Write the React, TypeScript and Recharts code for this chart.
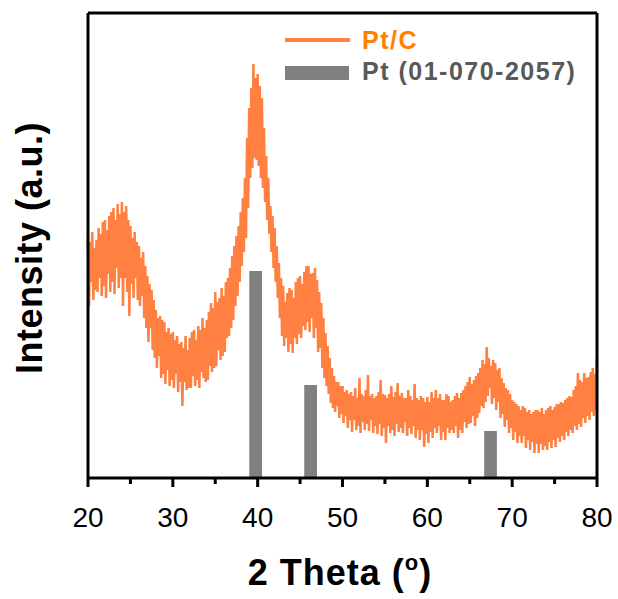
import { ComposedChart, Line, XAxis, YAxis, ReferenceArea, ReferenceLine } from 'recharts';

// XRD scan of Pt/C, sampled every 0.125 deg from 20 deg (one row per degree)
const ANGLE_START = 20;
const ANGLE_STEP = 0.125;

const intensity = [
  240, 172, 236, 196, 246, 178, 230, 188,
  238, 186, 250, 200, 244, 182, 256, 192,
  258, 180, 248, 204, 262, 186, 266, 196,
  270, 184, 258, 210, 274, 190, 264, 200,
  276, 172, 266, 200, 272, 186, 258, 162,
  252, 194, 240, 180, 246, 200, 236, 178,
  232, 172, 220, 182, 226, 160, 212, 150,
  202, 136, 194, 150, 188, 128, 178, 120,
  168, 110, 160, 122, 162, 100, 158, 104,
  156, 94, 146, 108, 150, 92, 144, 98,
  146, 90, 138, 104, 142, 86, 134, 96,
  136, 72, 130, 96, 142, 88, 128, 90,
  140, 90, 146, 102, 148, 92, 138, 98,
  152, 90, 148, 106, 160, 100, 150, 96,
  158, 98, 166, 112, 175, 106, 170, 110,
  186, 112, 176, 128, 180, 118, 190, 122,
  182, 126, 196, 140, 200, 142, 210, 150,
  222, 158, 232, 172, 242, 182, 252, 196,
  266, 212, 280, 226, 300, 240, 340, 270,
  370, 300, 390, 310, 414, 320, 400, 318,
  404, 312, 392, 300, 380, 290, 350, 276,
  322, 258, 300, 244, 272, 226, 262, 210,
  250, 196, 232, 180, 215, 160, 200, 142,
  192, 132, 176, 140, 185, 126, 190, 134,
  188, 125, 180, 140, 196, 134, 200, 144,
  202, 140, 194, 152, 206, 148, 212, 156,
  212, 146, 204, 160, 205, 140, 210, 150,
  198, 126, 186, 130, 175, 110, 160, 100,
  145, 92, 132, 84, 120, 75, 110, 70,
  102, 66, 96, 72, 96, 60, 92, 64,
  92, 55, 86, 62, 88, 50, 84, 58,
  86, 46, 82, 58, 90, 48, 80, 52,
  100, 45, 84, 56, 82, 48, 88, 54,
  103, 47, 82, 58, 84, 45, 80, 52,
  82, 44, 86, 54, 98, 42, 84, 50,
  83, 35, 80, 52, 84, 45, 92, 48,
  81, 42, 86, 54, 95, 46, 82, 50,
  85, 45, 80, 56, 80, 42, 88, 50,
  82, 44, 78, 52, 94, 40, 80, 48,
  78, 38, 82, 48, 80, 31, 76, 44,
  81, 35, 76, 46, 86, 40, 80, 50,
  88, 45, 80, 52, 84, 38, 78, 46,
  78, 38, 84, 50, 82, 45, 76, 48,
  78, 45, 82, 52, 85, 40, 80, 48,
  85, 45, 88, 56, 92, 50, 96, 54,
  101, 55, 94, 62, 98, 52, 102, 60,
  105, 65, 110, 72, 118, 70, 114, 76,
  131, 82, 120, 90, 112, 74, 118, 80,
  115, 68, 108, 76, 110, 60, 100, 64,
  95, 51, 90, 58, 88, 45, 84, 50,
  78, 38, 76, 46, 74, 35, 72, 42,
  68, 35, 72, 42, 70, 30, 66, 38,
  68, 28, 64, 36, 66, 25, 68, 34,
  68, 25, 66, 34, 70, 28, 64, 32,
  68, 28, 70, 36, 72, 30, 68, 38,
  71, 31, 74, 40, 74, 36, 76, 42,
  75, 38, 78, 46, 80, 42, 82, 48,
  81, 45, 88, 52, 92, 48, 105, 54,
  98, 51, 96, 60, 105, 55, 100, 62,
  101, 58, 106, 66, 110, 62, 104, 68,
  120,
];

// Pt reference pattern (01-070-2057)
const refPositions = [39.76, 46.24, 67.45];
const refHeights = [207, 93, 47];

const xTicks = [20, 25, 30, 35, 40, 45, 50, 55, 60, 65, 70, 75, 80];
const xLabels = [20, 30, 40, 50, 60, 70, 80];
const X_MIN = 20;
const X_MAX = 80;
const Y_MAX = 465;

const ORANGE = '#FF8040';
const GRAY = '#808080';
const FONT = '"Liberation Sans", Arial, sans-serif';
const BAR_HALF = 0.75;

const chartData = intensity.map((v, i) => ({ x: ANGLE_START + i * ANGLE_STEP, y: v }));

function AxisTick({ x, y, payload }: any) {
  const major = xLabels.includes(payload.value);
  return (
    <g>
      <line x1={x} x2={x} y1={y} y2={y + (major ? 9 : 6)} stroke="#000" strokeWidth={3} />
      {major && (
        <text x={x} y={y + 49} textAnchor="middle" fontSize={28} fontFamily={FONT} fill="#000">
          {payload.value}
        </text>
      )}
    </g>
  );
}

export default function App() {
  return (
    <div style={{ position: 'absolute', left: 0, top: 0, width: 618, height: 599, background: '#fff' }}>
      <ComposedChart
        width={618}
        height={599}
        data={chartData}
        margin={{ top: 13, right: 21, bottom: 0, left: 88 }}
      >
        <XAxis
          dataKey="x"
          type="number"
          domain={[X_MIN, X_MAX]}
          ticks={xTicks}
          interval={0}
          height={121}
          tickSize={0}
          tickMargin={0}
          tick={<AxisTick />}
          axisLine={{ stroke: '#000', strokeWidth: 3 }}
          tickLine={false}
        />
        <YAxis type="number" domain={[0, Y_MAX]} hide />
        {refPositions.map((p, i) => (
          <ReferenceArea
            key={p}
            x1={p - BAR_HALF}
            x2={p + BAR_HALF}
            y1={0}
            y2={refHeights[i]}
            fill={GRAY}
            fillOpacity={1}
            stroke="none"
            ifOverflow="visible"
          />
        ))}
        <Line
          type="linear"
          dataKey="y"
          stroke={ORANGE}
          strokeWidth={2.5}
          dot={false}
          isAnimationActive={false}
        />
        <ReferenceLine x={X_MIN} stroke="#000" strokeWidth={3} ifOverflow="visible" />
        <ReferenceLine x={X_MAX} stroke="#000" strokeWidth={3} ifOverflow="visible" />
        <ReferenceLine y={Y_MAX} stroke="#000" strokeWidth={3} ifOverflow="visible" />
      </ComposedChart>
      <svg
        width={618}
        height={599}
        style={{ position: 'absolute', left: 0, top: 0, pointerEvents: 'none' }}
        fontFamily={FONT}
      >
        <line x1={285} x2={350} y1={40} y2={40} stroke={ORANGE} strokeWidth={4} />
        <text x={362} y={49} fontSize={25} fontWeight="bold" fill="#FF8000" letterSpacing={1.5}>Pt/C</text>
        <rect x={285} y={66} width={64} height={14} fill={GRAY} />
        <text x={362} y={80} fontSize={25} fontWeight="bold" fill="#595959" letterSpacing={1.5}>
          Pt (01-070-2057)
        </text>
        <text x={340} y={585} textAnchor="middle" fontSize={36} fontWeight="bold" fill="#000" letterSpacing={1}>
          2 Theta (<tspan fontSize={22} dy={-15}>o</tspan><tspan dy={15}>)</tspan>
        </text>
        <text
          x={0}
          y={0}
          transform="translate(42,248) rotate(-90)"
          textAnchor="middle"
          fontSize={36}
          fontWeight="bold"
          fill="#000"
          letterSpacing={0.5}
        >
          Intensity (a.u.)
        </text>
      </svg>
    </div>
  );
}
